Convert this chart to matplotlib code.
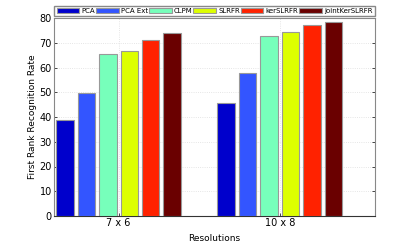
import numpy as np
import matplotlib.pyplot as plt

resolutions = ["7 x 6", "10 x 8"]
methods = ["PCA", "PCA Ext", "CLPM", "SLRFR", "kerSLRFR", "jointKerSLRFR"]
rates = {
    "PCA": [38.7, 45.8],
    "PCA Ext": [49.8, 57.9],
    "CLPM": [65.5, 72.8],
    "SLRFR": [66.5, 74.2],
    "kerSLRFR": [71.3, 77.0],
    "jointKerSLRFR": [73.8, 78.4],
}
colors = ["#0000cc", "#3355ff", "#77ffbb", "#ddff00", "#ff2200", "#6a0000"]

fig = plt.figure(figsize=(4.15, 2.43), dpi=100)
ax = fig.add_axes([54/415, 1 - 216/243, 321/415, 198/243])

x = np.arange(1, len(resolutions) + 1)
step = 0.133
width = 0.108
for i, m in enumerate(methods):
    ax.bar(x + (i - 2.5) * step, rates[m], width, color=colors[i],
           edgecolor="#999999", linewidth=0.8, label=m, zorder=3)

ax.set_xlim(0.6, 2.59)
ax.set_ylim(0, 80)
ax.set_xticks(x)
ax.set_xticklabels(resolutions)
ax.set_yticks(range(0, 81, 10))
ax.grid(True, linestyle=":", color="#dddddd", linewidth=0.6, zorder=0)
ax.tick_params(labelsize=7, length=2, width=0.5, direction="in", top=False, right=True, pad=1.5)
for s in ax.spines.values():
    s.set_color("#888888")
    s.set_linewidth(0.8)
ax.spines["bottom"].set_color("#333333")
ax.set_ylabel("First Rank Recognition Rate", fontsize=6.5, labelpad=2)
ax.set_xlabel("Resolutions", fontsize=6.5, labelpad=4)

ax.legend(ncol=6, loc="lower center", bbox_to_anchor=(0.5, 1.01),
          fontsize=5.0, handlelength=3.3, handleheight=0.7, handletextpad=0.3,
          columnspacing=0.1, borderpad=0.3, borderaxespad=0, fancybox=False,
          edgecolor="#888888", framealpha=1)

fig.savefig("out.png", dpi=100)
